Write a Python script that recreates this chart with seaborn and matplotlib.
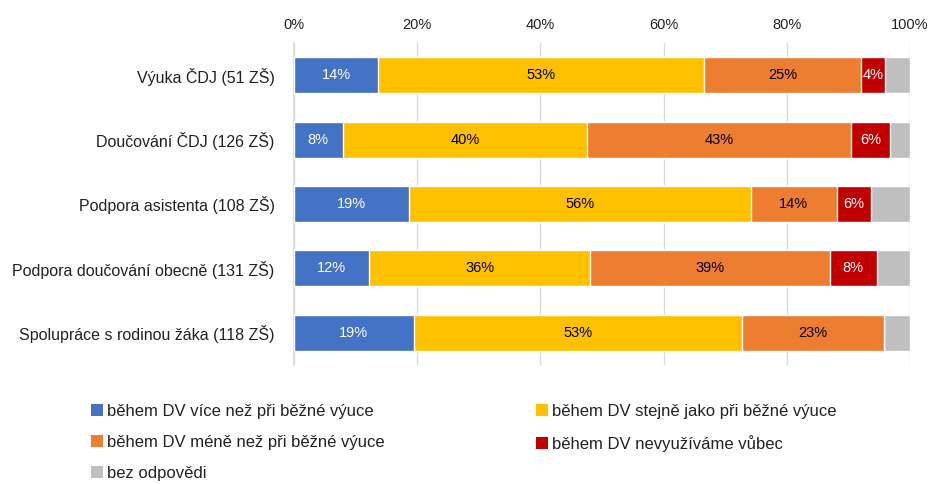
import matplotlib
matplotlib.use("Agg")
import matplotlib.pyplot as plt
from matplotlib.patches import Patch
import numpy as np
import pandas as pd
import seaborn as sns

categories = [
    "Výuka ČDJ (51 ZŠ)",
    "Doučování ČDJ (126 ZŠ)",
    "Podpora asistenta (108 ZŠ)",
    "Podpora doučování obecně (131 ZŠ)",
    "Spolupráce s rodinou žáka (118 ZŠ)",
]
series_names = [
    "během DV více než při běžné výuce",
    "během DV stejně jako při běžné výuce",
    "během DV méně než při běžné výuce",
    "během DV nevyužíváme vůbec",
    "bez odpovědi",
]
more = [13.7, 7.9, 18.6, 12.2, 19.4]
same = [52.9, 39.7, 55.6, 35.9, 53.4]
less = [25.4, 42.9, 13.9, 38.9, 22.9]
never = [4.0, 6.3, 5.6, 7.6, 0.0]
no_answer = [4.0, 3.2, 6.3, 5.4, 4.3]
x_ticks = [0, 20, 40, 60, 80, 100]

colors = ["#4472C4", "#FFC000", "#ED7D31", "#C00000", "#BFBFBF"]
label_colors = ["white", "black", "black", "white", None]

sns.set_theme(style="white")
plt.rcParams["font.family"] = ["Liberation Sans", "DejaVu Sans"]

values = np.array([more, same, less, never, no_answer])
cum = np.cumsum(values, axis=0)

fig = plt.figure(figsize=(9.29, 4.84), dpi=100)
ax = fig.add_axes([294 / 929, 1 - 365 / 484, 616 / 929, 322 / 484])

# stacked bars: draw cumulative totals from the last segment to the first
for i in range(len(series_names) - 1, -1, -1):
    df = pd.DataFrame({"kategorie": categories, "hodnota": cum[i]})
    sns.barplot(data=df, x="hodnota", y="kategorie", orient="h", color=colors[i],
                saturation=1, width=0.56, ax=ax, zorder=3)

# value labels at the middle of each segment
for i in range(len(series_names)):
    if label_colors[i] is None:
        continue
    for j in range(len(categories)):
        v = values[i, j]
        if v <= 0:
            continue
        left = cum[i, j] - v
        ax.text(left + v / 2, j, f"{v:.0f}%", ha="center", va="center",
                color=label_colors[i], fontsize=10.5, zorder=4)

ax.set_xlim(0, 100)
ax.set_ylim(len(categories) - 0.5, -0.5)
ax.set_xticks(x_ticks)
ax.set_xticklabels([f"{t}%" for t in x_ticks])
ax.xaxis.tick_top()
ax.tick_params(axis="x", length=0, labelsize=10.5, pad=8, colors="#222222")
ax.tick_params(axis="y", length=0, labelsize=11.5, pad=14, colors="#222222")
ax.set_xlabel("")
ax.set_ylabel("")
ax.grid(axis="x", color="#D9D9D9", linewidth=1, zorder=0)
for side in ["top", "right", "bottom"]:
    ax.spines[side].set_visible(False)
ax.spines["left"].set_color("#D9D9D9")
ax.spines["left"].set_zorder(0)

handles = [Patch(facecolor=c, edgecolor="none") for c in colors]
legend_kw = dict(frameon=False, fontsize=12, handlelength=0.7, handleheight=0.7,
                 handletextpad=0.25, labelspacing=0.95, borderaxespad=0,
                 borderpad=0, labelcolor="#222222")
leg1 = fig.legend([handles[0], handles[2], handles[4]],
                  [series_names[0], series_names[2], series_names[4]],
                  loc="upper left", bbox_to_anchor=(91 / 929, 1 - 404 / 484), **legend_kw)
leg2 = fig.legend([handles[1], handles[3]],
                  [series_names[1], series_names[3]],
                  loc="upper left", bbox_to_anchor=(536 / 929, 1 - 404 / 484), **legend_kw)

fig.savefig("out.png", dpi=100)
